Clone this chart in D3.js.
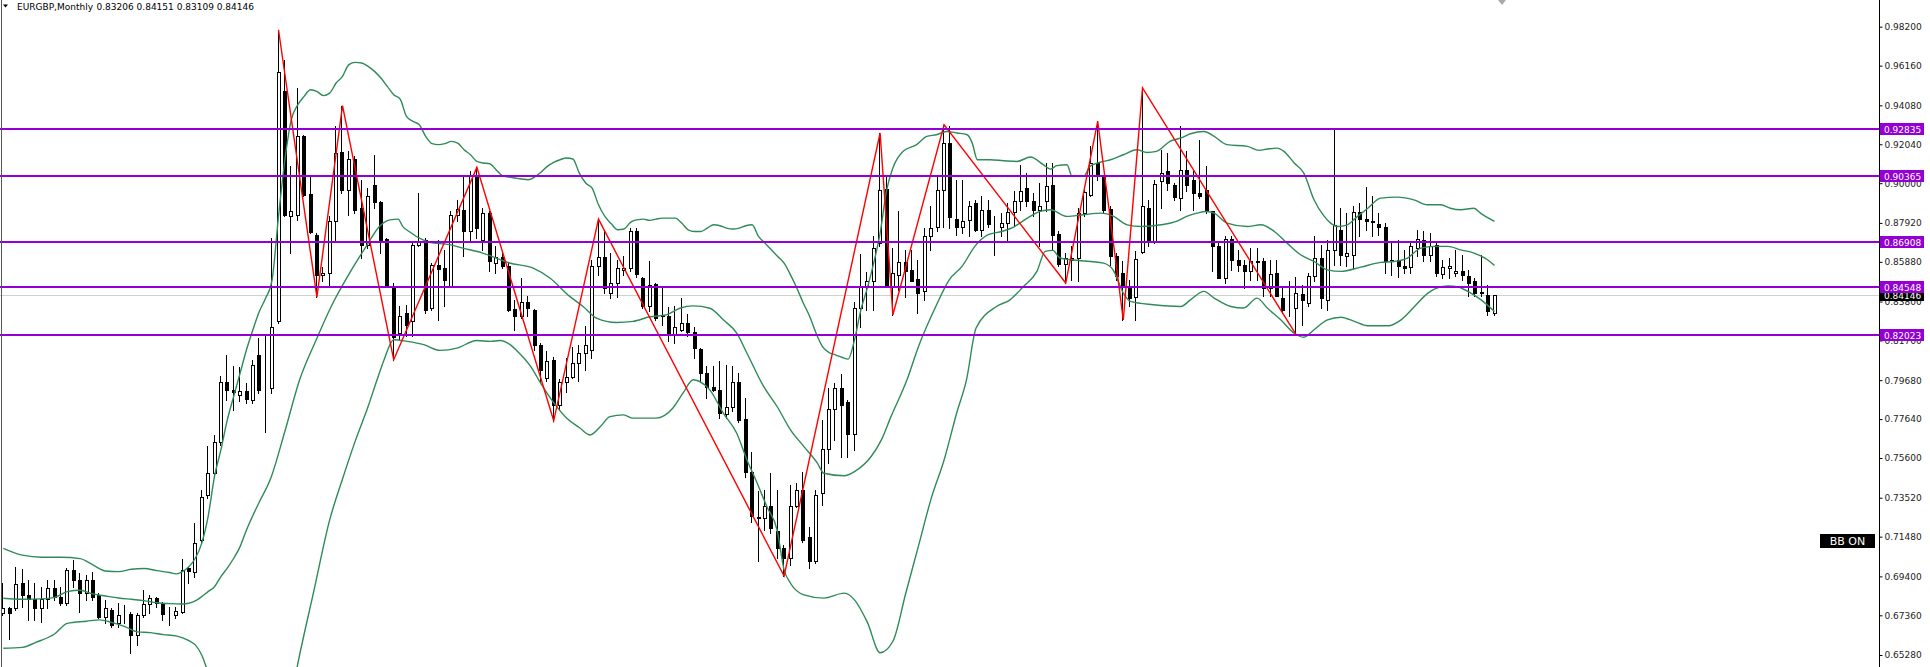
<!DOCTYPE html>
<html>
<head>
<meta charset="utf-8">
<script src="https://cdn.jsdelivr.net/npm/d3@7"></script>
<style>
  body { margin: 0; background: #fff; }
  svg { display: block; }
</style>
</head>
<body>
<script>

// chart header
var symbolTitle = "EURGBP,Monthly";
var lastBarText = "0.83206 0.84151 0.83109 0.84146";

// monthly candles, one per bar (bar 0 = oldest)
var opens = [
0.6747,0.6773,0.6773,0.6907,0.6843,0.6820,0.6776,0.6820,0.6881,0.6834,
0.6799,0.6974,0.6921,0.6851,0.6921,0.6843,0.6729,0.6764,0.6694,0.6742,
0.6743,0.6633,0.6738,0.6796,0.6825,0.6799,0.6743,0.6738,0.6755,0.6982,
0.6965,0.7131,0.7367,0.7481,0.7642,0.7961,0.7918,0.7892,0.7909,0.7865,
0.8101,0.7918,0.7927,0.8276,0.9481,0.8826,0.8835,0.9249,0.8945,0.8730,
0.8520,0.8529,0.8800,0.9162,0.8962,0.9127,0.8870,0.8677,0.8988,0.8899,
0.8709,0.8463,0.8214,0.8319,0.8276,0.8678,0.8704,0.8346,0.8573,0.8555,
0.8463,0.8835,0.8861,0.8748,0.9039,0.8704,0.8844,0.8581,0.8613,0.8564,
0.8341,0.8306,0.8375,0.8337,0.8153,0.7979,0.8075,0.7840,0.7960,0.7985,
0.8060,0.8110,0.8127,0.8564,0.8613,0.8424,0.8476,0.8543,0.8555,0.8747,
0.8503,0.8354,0.8471,0.8311,0.8305,0.8206,0.8232,0.8267,0.8218,0.8131,
0.8005,0.7930,0.7914,0.7791,0.7830,0.7961,0.7763,0.7489,0.7244,0.7245,
0.7309,0.7179,0.7091,0.7035,0.7309,0.7393,0.7145,0.7018,0.7376,0.7606,
0.7816,0.7926,0.7856,0.7685,0.8345,0.8455,0.8485,0.8686,0.8969,0.8463,
0.8520,0.8585,0.8543,0.8497,0.8433,0.8721,0.8773,0.8966,0.9210,0.8812,
0.8773,0.8808,0.8896,0.8753,0.8861,0.8773,0.8773,0.8794,0.8847,0.8905,
0.8974,0.8905,0.8861,0.8905,0.8990,0.8733,0.8576,0.8600,0.8608,0.8843,
0.8939,0.9106,0.9036,0.8864,0.8620,0.8532,0.8459,0.8403,0.8639,0.8870,
0.8695,0.9009,0.9062,0.8992,0.8922,0.9071,0.9018,0.8948,0.8966,0.8852,
0.8669,0.8503,0.8707,0.8599,0.8573,0.8538,0.8588,0.8590,0.8450,0.8529,
0.8398,0.8354,0.8346,0.8419,0.8372,0.8512,0.8608,0.8389,0.8651,0.8756,
0.8620,0.8625,0.8847,0.8812,0.8800,0.8787,0.8773,0.8590,0.8599,0.8564,
0.8560,0.8660,0.8704,0.8625,0.8677,0.8525,0.8555,0.8529,0.8538,0.8512,
0.8485,0.8430,0.8415,0.83206];
var highs = [
0.6904,0.6780,0.6991,0.6977,0.6921,0.6904,0.6886,0.6921,0.6921,0.6886,
0.6982,0.7026,0.6956,0.6947,0.6965,0.6851,0.6816,0.6773,0.6799,0.6790,
0.6755,0.6747,0.6869,0.6843,0.6834,0.6808,0.6781,0.6781,0.7030,0.6991,
0.7218,0.7393,0.7625,0.7682,0.7988,0.8101,0.8040,0.8035,0.7953,0.8075,
0.8189,0.8197,0.8713,0.9804,0.9647,0.9088,0.9499,0.9254,0.9036,0.8739,
0.8560,0.8826,0.9298,0.9406,0.9167,0.9141,0.9018,0.8974,0.9149,0.8905,
0.8713,0.8477,0.8354,0.8363,0.8695,0.8948,0.8713,0.8582,0.8704,0.8651,
0.8852,0.8914,0.9036,0.9062,0.9083,0.8870,0.8852,0.8669,0.8634,0.8582,
0.8389,0.8503,0.8407,0.8340,0.8162,0.8120,0.8090,0.7975,0.8085,0.8140,
0.8150,0.8250,0.8600,0.8812,0.8747,0.8634,0.8599,0.8616,0.8765,0.8765,
0.8508,0.8590,0.8476,0.8462,0.8350,0.8354,0.8401,0.8314,0.8249,0.8136,
0.8040,0.8040,0.8066,0.8048,0.8040,0.8008,0.7874,0.7594,0.7385,0.7393,
0.7484,0.7393,0.7105,0.7419,0.7428,0.7489,0.7201,0.7393,0.7760,0.7926,
0.7952,0.8001,0.7865,0.8380,0.8630,0.8537,0.8721,0.9263,0.9036,0.8660,
0.8852,0.8651,0.8651,0.8599,0.8765,0.8878,0.9036,0.9306,0.9298,0.9018,
0.9018,0.8905,0.8913,0.8931,0.8913,0.8826,0.8843,0.8896,0.8957,0.9097,
0.9053,0.8948,0.9001,0.9106,0.9106,0.8747,0.8634,0.8669,0.8869,0.8966,
0.9193,0.9324,0.9044,0.8878,0.8634,0.8590,0.8494,0.8643,0.9499,0.8913,
0.9018,0.9175,0.9158,0.9001,0.9298,0.9167,0.9062,0.9228,0.9088,0.8852,
0.8686,0.8721,0.8721,0.8651,0.8599,0.8660,0.8660,0.8608,0.8599,0.8599,
0.8450,0.8485,0.8511,0.8468,0.8529,0.8721,0.8678,0.8704,0.9280,0.8870,
0.8843,0.8878,0.8896,0.8980,0.8931,0.8843,0.8791,0.8695,0.8704,0.8651,
0.8686,0.8756,0.8747,0.8739,0.8686,0.8599,0.8608,0.8651,0.8625,0.8547,
0.8503,0.8625,0.8468,0.84151];
var lows = [
0.6738,0.6610,0.6764,0.6781,0.6712,0.6712,0.6703,0.6773,0.6816,0.6790,
0.6790,0.6886,0.6755,0.6816,0.6816,0.6720,0.6694,0.6677,0.6677,0.6694,
0.6537,0.6580,0.6729,0.6747,0.6781,0.6712,0.6685,0.6720,0.6747,0.6904,
0.6939,0.7114,0.7349,0.7470,0.7630,0.7865,0.7813,0.7857,0.7848,0.7848,
0.7900,0.7699,0.7900,0.8267,0.8826,0.8634,0.8808,0.8931,0.8739,0.8403,
0.8490,0.8459,0.8704,0.8948,0.8835,0.8844,0.8608,0.8660,0.8870,0.8634,
0.8459,0.8075,0.8180,0.8197,0.8197,0.8669,0.8320,0.8337,0.8284,0.8354,
0.8459,0.8800,0.8617,0.8704,0.8713,0.8651,0.8538,0.8529,0.8555,0.8328,
0.8232,0.8293,0.8302,0.8127,0.7960,0.7965,0.7755,0.7810,0.7905,0.7980,
0.7965,0.8020,0.8083,0.8520,0.8424,0.8398,0.8406,0.8520,0.8538,0.8511,
0.8345,0.8328,0.8284,0.8258,0.8171,0.8162,0.8223,0.8197,0.8083,0.7961,
0.7874,0.7909,0.7769,0.7769,0.7804,0.7751,0.7463,0.7227,0.7018,0.7184,
0.7166,0.7035,0.6942,0.7000,0.7304,0.7122,0.6983,0.7009,0.7315,0.7533,
0.7655,0.7568,0.7568,0.7603,0.8249,0.8337,0.8337,0.8669,0.8459,0.8311,
0.8442,0.8403,0.8485,0.8319,0.8389,0.8651,0.8747,0.8773,0.8765,0.8730,
0.8739,0.8721,0.8747,0.8721,0.8773,0.8625,0.8721,0.8704,0.8782,0.8861,
0.8878,0.8826,0.8669,0.8852,0.8651,0.8564,0.8477,0.8494,0.8485,0.8826,
0.8931,0.9018,0.8843,0.8573,0.8494,0.8284,0.8354,0.8284,0.8634,0.8669,
0.8686,0.8869,0.8966,0.8913,0.8861,0.8957,0.8861,0.8922,0.8843,0.8538,
0.8503,0.8477,0.8547,0.8538,0.8450,0.8494,0.8494,0.8407,0.8407,0.8407,
0.8319,0.8302,0.8206,0.8258,0.8354,0.8485,0.8346,0.8337,0.8573,0.8573,
0.8564,0.8555,0.8721,0.8756,0.8721,0.8730,0.8529,0.8520,0.8511,0.8529,
0.8529,0.8616,0.8590,0.8590,0.8512,0.8503,0.8503,0.8512,0.8494,0.8407,
0.8407,0.8407,0.8311,0.83109];
var closes = [
0.6773,0.6750,0.6900,0.6843,0.6820,0.6776,0.6820,0.6881,0.6834,0.6799,
0.6974,0.6921,0.6851,0.6921,0.6834,0.6729,0.6773,0.6685,0.6738,0.6745,
0.6633,0.6738,0.6796,0.6825,0.6799,0.6743,0.6741,0.6760,0.6974,0.6970,
0.7114,0.7358,0.7481,0.7642,0.7961,0.7918,0.7904,0.7913,0.7869,0.8049,
0.7918,0.7915,0.8246,0.9583,0.8835,0.8856,0.9249,0.8940,0.8742,0.8520,
0.8529,0.8800,0.9158,0.8966,0.9127,0.8857,0.8677,0.8931,0.8899,0.8704,
0.8463,0.8194,0.8305,0.8258,0.8678,0.8690,0.8337,0.8573,0.8550,0.8494,
0.8835,0.8865,0.8748,0.9036,0.8765,0.8844,0.8590,0.8613,0.8564,0.8337,
0.8306,0.8375,0.8346,0.8153,0.8023,0.8066,0.7840,0.7960,0.7985,0.8060,
0.8110,0.8150,0.8564,0.8613,0.8450,0.8476,0.8555,0.8555,0.8747,0.8525,
0.8354,0.8468,0.8293,0.8302,0.8206,0.8249,0.8267,0.8218,0.8136,0.8005,
0.7930,0.7914,0.7795,0.7830,0.7956,0.7760,0.7489,0.7254,0.7250,0.7309,
0.7192,0.7088,0.7035,0.7309,0.7393,0.7131,0.7018,0.7367,0.7606,0.7816,
0.7926,0.7839,0.7685,0.8345,0.8455,0.8490,0.8660,0.8966,0.8463,0.8529,
0.8585,0.8538,0.8490,0.8424,0.8721,0.8765,0.8966,0.9210,0.8822,0.8773,
0.8800,0.8882,0.8753,0.8861,0.8788,0.8770,0.8794,0.8847,0.8905,0.8957,
0.8905,0.8861,0.8878,0.8983,0.8730,0.8576,0.8608,0.8608,0.8843,0.8952,
0.9106,0.9036,0.8861,0.8620,0.8515,0.8468,0.8398,0.8602,0.8878,0.8695,
0.8997,0.9053,0.9001,0.8927,0.9071,0.8992,0.8948,0.8931,0.8861,0.8669,
0.8503,0.8707,0.8599,0.8573,0.8538,0.8590,0.8592,0.8450,0.8525,0.8410,
0.8337,0.8358,0.8424,0.8389,0.8512,0.8608,0.8398,0.8651,0.8782,0.8625,
0.8634,0.8847,0.8812,0.8800,0.8797,0.8773,0.8590,0.8599,0.8567,0.8555,
0.8669,0.8707,0.8625,0.8672,0.8529,0.8560,0.8564,0.8541,0.8520,0.8477,
0.8424,0.8424,0.8328,0.84146];

// Bollinger bands: [bar, price]
var bbUpper = [
[0,0.7087],[3,0.7051],[6,0.7040],[9,0.7040],[12,0.7033],[14,0.7000],[16,0.6968],[18,0.6965],
[20,0.6977],[22,0.6981],[24,0.6970],[26,0.6960],[27,0.6953],[28,0.6965],[29,0.6991],[30,0.7035],
[31,0.7113],[32,0.7253],[33,0.7464],[34,0.7603],[35,0.7760],[36,0.7883],[37,0.8005],[38,0.8127],
[39,0.8232],[40,0.8328],[41,0.8398],[42,0.8494],[43,0.8826],[44,0.9123],[45,0.9333],[46,0.9410],
[47,0.9455],[48,0.9490],[49,0.9481],[50,0.9459],[51,0.9472],[52,0.9525],[53,0.9560],[54,0.9621],
[55,0.9633],[56,0.9630],[57,0.9612],[58,0.9586],[59,0.9551],[60,0.9507],[61,0.9464],[62,0.9441],
[63,0.9350],[64,0.9324],[65,0.9306],[66,0.9245],[67,0.9207],[68,0.9202],[69,0.9207],[70,0.9219],
[71,0.9210],[72,0.9175],[73,0.9149],[74,0.9114],[75,0.9106],[76,0.9102],[77,0.9071],[78,0.9039],
[79,0.9032],[80,0.9027],[81,0.9022],[82,0.9018],[83,0.9032],[84,0.9057],[85,0.9088],[86,0.9109],
[87,0.9123],[88,0.9132],[89,0.9127],[90,0.9053],[91,0.9001],[92,0.8974],[93,0.8887],[94,0.8826],
[95,0.8787],[96,0.8756],[97,0.8760],[98,0.8795],[99,0.8808],[100,0.8812],[101,0.8805],[102,0.8812],
[103,0.8817],[105,0.8817],[106,0.8791],[107,0.8756],[108,0.8747],[109,0.8747],[110,0.8765],[111,0.8782],
[112,0.8777],[113,0.8765],[114,0.8760],[115,0.8765],[116,0.8777],[117,0.8782],[118,0.8721],[119,0.8686],
[120,0.8651],[121,0.8616],[122,0.8581],[123,0.8520],[124,0.8450],[125,0.8372],[126,0.8302],[127,0.8214],
[128,0.8144],[129,0.8113],[130,0.8101],[131,0.8088],[132,0.8078],[133,0.8179],[134,0.8337],[135,0.8450],
[136,0.8581],[137,0.8738],[138,0.8960],[139,0.9080],[140.6,0.9167],[142.7,0.9202],[144.3,0.9245],[145.8,0.9254],
[147.4,0.9271],[149,0.9263],[150.6,0.9254],[151.4,0.9210],[152.2,0.9123],[154.2,0.9123],[156.3,0.9118],[158.4,0.9114],
[160.5,0.9137],[162.5,0.9097],[163.6,0.9074],[164.6,0.9092],[166.2,0.9097],[167,0.9036],[168.8,0.9036],[169.8,0.9088],
[171.9,0.9114],[173,0.9123],[175,0.9149],[177.1,0.9175],[178.7,0.9161],[180.2,0.9167],[182.3,0.9219],[184,0.9237],
[185.5,0.9259],[187.6,0.9271],[189.2,0.9245],[191.2,0.9202],[194.4,0.9193],[196.2,0.9172],[197.5,0.9179],[199,0.9184],
[200.1,0.9167],[201.7,0.9106],[203.2,0.9053],[204.8,0.8913],[206.4,0.8826],[207.4,0.8791],[208.5,0.8773],[210,0.8782],
[211.6,0.8826],[213.2,0.8869],[215.2,0.8922],[217.8,0.8927],[220.4,0.8913],[222.5,0.8887],[224.6,0.8887],[226.1,0.8869],
[227.7,0.8861],[229.8,0.8869],[230.8,0.8843],[233,0.8800]];
var bbMiddle = [
[0,0.6825],[3,0.6820],[6,0.6822],[8,0.6830],[10,0.6860],[12,0.6867],[14,0.6848],[16,0.6837],
[18,0.6827],[20,0.6820],[22,0.6813],[24,0.6802],[26,0.6797],[28,0.6795],[29,0.6799],[30,0.6811],
[31,0.6834],[32,0.6860],[33,0.6886],[34,0.6939],[35,0.6983],[36,0.7035],[37,0.7096],[38,0.7183],
[40,0.7330],[41.7,0.7446],[44,0.7700],[46.3,0.7970],[48.9,0.8180],[51.5,0.8372],[54.1,0.8529],[56.7,0.8669],
[58.8,0.8774],[60.4,0.8808],[61.7,0.8812],[62.4,0.8774],[63.4,0.8747],[65.5,0.8704],[66.6,0.8690],[69.7,0.8678],
[71.8,0.8660],[74.9,0.8634],[79.1,0.8582],[82.8,0.8555],[85.4,0.8503],[88.5,0.8407],[90.6,0.8354],[92.7,0.8293],
[95.8,0.8270],[98.4,0.8276],[101,0.8300],[103.6,0.8310],[105.7,0.8345],[107.8,0.8357],[110.4,0.8345],[112.5,0.8284],
[114.6,0.8214],[116.2,0.8109],[118.8,0.7935],[120.9,0.7830],[123,0.7708],[125.1,0.7620],[127.2,0.7533],[128.2,0.7480],
[131.4,0.7467],[133,0.7489],[135.6,0.7568],[137.2,0.7655],[138.7,0.7777],[141.2,0.7970],[143,0.8145],[145.7,0.8354],
[147.8,0.8494],[149.8,0.8564],[151.8,0.8669],[153.9,0.8730],[156,0.8747],[158,0.8773],[160,0.8817],[162,0.8852],
[163.6,0.8861],[166.2,0.8826],[168.8,0.8835],[171.5,0.8843],[173.5,0.8826],[175.6,0.8782],[177.8,0.8773],[180.9,0.8782],
[183.3,0.8800],[184.9,0.8826],[186.5,0.8843],[188,0.8852],[189.2,0.8843],[191.2,0.8791],[194.4,0.8773],[196.5,0.8782],
[198.6,0.8747],[200.6,0.8686],[202.7,0.8625],[204.8,0.8590],[206.9,0.8546],[209,0.8538],[212.1,0.8560],[215.2,0.8585],
[217.3,0.8590],[219.4,0.8608],[221.5,0.8660],[223.6,0.8669],[225.7,0.8669],[227.7,0.8651],[229.8,0.8634],[231.9,0.8599],
[233,0.8569]];
var bbLower = [
[0,0.6563],[3,0.6568],[5,0.6593],[8,0.6638],[10,0.6694],[13,0.6705],[15,0.6712],[17,0.6698],
[19,0.6677],[21,0.6649],[23,0.6645],[25,0.6635],[27,0.6628],[29,0.6603],[30,0.6581],[31,0.6528],
[32,0.6440],[33,0.6370],[35,0.6200],[37,0.6050],[39,0.5920],[41,0.5880],[43,0.6000],[44,0.6150],
[45,0.6310],[46,0.6480],[48.5,0.6860],[51,0.7236],[53,0.7450],[55,0.7650],[57,0.7830],[58.4,0.7970],
[59.5,0.8075],[61,0.8180],[63.1,0.8171],[65.7,0.8154],[68.3,0.8124],[70.9,0.8136],[74,0.8176],[76.1,0.8171],
[77.6,0.8176],[79.2,0.8154],[80.2,0.8124],[82.4,0.8040],[84,0.7950],[86,0.7850],[88,0.7770],[90,0.7720],
[91.7,0.7681],[93.3,0.7725],[94.8,0.7777],[96.9,0.7786],[98.4,0.7769],[102,0.7769],[104.6,0.7821],[106.2,0.7900],
[107.8,0.7970],[108.8,0.7961],[110.4,0.7917],[112.5,0.7795],[114.6,0.7690],[116.2,0.7550],[117.8,0.7428],[119.3,0.7306],
[120.9,0.7184],[122,0.6974],[123,0.6904],[125.1,0.6843],[128.2,0.6826],[131.4,0.6852],[133,0.6817],[135,0.6700],
[137,0.6540],[139,0.6600],[141,0.6850],[143,0.7100],[145,0.7350],[147,0.7550],[149,0.7800],[150.5,0.7970],
[152,0.8241],[155.2,0.8354],[157.3,0.8389],[159.4,0.8459],[161.5,0.8538],[162.8,0.8643],[164,0.8648],[165.1,0.8608],
[166.9,0.8599],[171.9,0.8581],[173.4,0.8546],[175,0.8424],[176.1,0.8381],[179.7,0.8363],[184,0.8354],[185.5,0.8389],
[187.6,0.8433],[189.2,0.8398],[191.8,0.8354],[193.8,0.8346],[195.9,0.8398],[197.5,0.8346],[199.6,0.8284],[201.7,0.8214],
[203.2,0.8193],[204.8,0.8232],[206.9,0.8284],[209,0.8298],[211.1,0.8276],[213.2,0.8253],[216.4,0.8253],[218.4,0.8284],
[220.5,0.8354],[222.6,0.8424],[223.6,0.8445],[225.7,0.8462],[227.3,0.8456],[229.3,0.8424],[230.9,0.8389],[233,0.8328]];

// zigzag turning points
var zigzagBars   = [43, 49, 53, 61, 74, 86, 93, 122, 137, 139, 147, 166, 171, 175, 178, 202];
var zigzagPrices = [0.9804, 0.8403, 0.9406, 0.8075, 0.9083, 0.7755, 0.8812, 0.6942, 0.9263, 0.8311, 0.9306, 0.8477, 0.9324, 0.8284, 0.9499, 0.8206];

// horizontal support / resistance lines
var levelPrices = [0.92835, 0.90365, 0.86908, 0.84548, 0.82023];
var bidPrice = 0.84146;

// price scale labels
var yTicks = [0.98200, 0.96160, 0.94080, 0.92040, 0.90000, 0.87920, 0.85880, 0.83800,
              0.81760, 0.79680, 0.77640, 0.75600, 0.73520, 0.71480, 0.69400, 0.67360, 0.65280];

var badgeText = "BB ON";

// set the dimensions
var width = 1930,
    height = 667,
    plotRight = 1879;   // price scale separator

var font = '"DejaVu Sans", sans-serif';

var x = d3.scaleLinear()
          .domain([0, opens.length - 1])
          .range([3.3, 1494.5]);
var y = d3.scaleLinear()
          .domain([0.65280, 0.98200])
          .range([655, 26.7]);

var svg = d3.select("body").append("svg")
    .attr("width", width)
    .attr("height", height);

svg.append("rect")
    .attr("width", width)
    .attr("height", height)
    .attr("fill", "#ffffff");

svg.append("clipPath")
    .attr("id", "plot")
  .append("rect")
    .attr("x", 0).attr("y", 0)
    .attr("width", plotRight).attr("height", height);

var plot = svg.append("g").attr("clip-path", "url(#plot)");

// bid line
plot.append("line")
    .attr("x1", 0).attr("x2", plotRight)
    .attr("y1", Math.round(y(bidPrice)) + 0.5)
    .attr("y2", Math.round(y(bidPrice)) + 0.5)
    .attr("stroke", "#d0d0d0")
    .attr("stroke-width", 1);

// candles
var bars = d3.range(opens.length);
var candle = plot.selectAll(".candle")
    .data(bars)
  .enter().append("g")
    .attr("class", "candle");

candle.append("line")
    .attr("x1", function(i) { return Math.round(x(i)) - 0.5; })
    .attr("x2", function(i) { return Math.round(x(i)) - 0.5; })
    .attr("y1", function(i) { return Math.round(y(highs[i])); })
    .attr("y2", function(i) { return Math.round(y(lows[i])) + 1; })
    .attr("stroke", "#000")
    .attr("stroke-width", 1);

candle.append("rect")
    .attr("x", function(i) { return Math.round(x(i)) - 1.5; })
    .attr("width", 3)
    .attr("y", function(i) { return Math.round(y(Math.max(opens[i], closes[i]))) + 0.5; })
    .attr("height", function(i) {
        return Math.round(y(Math.min(opens[i], closes[i]))) - Math.round(y(Math.max(opens[i], closes[i])));
    })
    .attr("fill", function(i) { return closes[i] >= opens[i] ? "#ffffff" : "#000000"; })
    .attr("stroke", "#000")
    .attr("stroke-width", 1);

// bollinger bands
var bandLine = d3.line()
    .x(function(d) { return x(d[0]); })
    .y(function(d) { return y(d[1]); })
    .curve(d3.curveMonotoneX);

[bbUpper, bbMiddle, bbLower].forEach(function(band) {
  plot.append("path")
      .datum(band)
      .attr("fill", "none")
      .attr("stroke", "#2e8b57")
      .attr("stroke-width", 1.4)
      .attr("d", bandLine);
});

// zigzag
var zz = zigzagBars.map(function(b, k) { return [b, zigzagPrices[k]]; });
plot.append("path")
    .datum(zz)
    .attr("fill", "none")
    .attr("stroke", "#ff0000")
    .attr("stroke-width", 1.4)
    .attr("d", d3.line()
        .x(function(d) { return x(d[0]); })
        .y(function(d) { return y(d[1]); }));

// horizontal levels
plot.selectAll(".level")
    .data(levelPrices)
  .enter().append("line")
    .attr("class", "level")
    .attr("x1", 0).attr("x2", plotRight)
    .attr("y1", function(d) { return Math.round(y(d)); })
    .attr("y2", function(d) { return Math.round(y(d)); })
    .attr("stroke", "#9400d3")
    .attr("stroke-width", 2);

// left frame
svg.append("line")
    .attr("x1", 1.5).attr("x2", 1.5)
    .attr("y1", 0).attr("y2", height)
    .attr("stroke", "#555")
    .attr("stroke-width", 1);

// price axis
var axis = svg.append("g")
    .attr("class", "y axis")
    .attr("transform", "translate(" + (plotRight + 0.5) + ",0)")
    .call(d3.axisRight(y)
        .tickValues(yTicks)
        .tickFormat(d3.format(".5f"))
        .tickSize(3)
        .tickSizeOuter(0));

axis.select(".domain").remove();
axis.selectAll(".tick line").attr("stroke", "#000");
axis.selectAll(".tick text")
    .attr("x", 5)
    .style("font-family", font)
    .style("font-size", "9px")
    .attr("fill", "#222");

svg.append("line")
    .attr("x1", plotRight + 0.5).attr("x2", plotRight + 0.5)
    .attr("y1", 0).attr("y2", height)
    .attr("stroke", "#000")
    .attr("stroke-width", 1);

// bid label
svg.append("rect")
    .attr("x", plotRight + 1).attr("y", Math.round(y(bidPrice)) - 5)
    .attr("width", 44).attr("height", 11)
    .attr("fill", "#000");
svg.append("text")
    .attr("x", plotRight + 5).attr("y", Math.round(y(bidPrice)) + 4)
    .style("font-family", font)
    .style("font-size", "9px")
    .attr("fill", "#fff")
    .text(d3.format(".5f")(bidPrice));

// level labels
var levelLabel = svg.selectAll(".level-label")
    .data(levelPrices)
  .enter().append("g")
    .attr("class", "level-label")
    .attr("transform", function(d) { return "translate(" + (plotRight + 1) + "," + Math.round(y(d)) + ")"; });

levelLabel.append("rect")
    .attr("x", 0).attr("y", -6)
    .attr("width", 44).attr("height", 12)
    .attr("fill", "#9400d3");
levelLabel.append("text")
    .attr("x", 4).attr("y", 4)
    .style("font-family", font)
    .style("font-size", "9px")
    .attr("fill", "#fff")
    .text(function(d) { return d3.format(".5f")(d); });

// header
svg.append("path")
    .attr("d", "M3,4.5 L8,4.5 L5.5,7.5 Z")
    .attr("fill", "#000");
svg.append("text")
    .attr("x", 17).attr("y", 10)
    .style("font-family", font)
    .style("font-size", "9px")
    .attr("fill", "#000")
    .text(symbolTitle);
svg.append("text")
    .attr("x", 96.5).attr("y", 10)
    .style("font-family", font)
    .style("font-size", "9px")
    .attr("fill", "#000")
    .text(lastBarText);

// chart shift marker
svg.append("path")
    .attr("d", "M1498,0 L1506,0 L1502,5 Z")
    .attr("fill", "#a9a9a9");

// BB ON badge
svg.append("rect")
    .attr("x", 1820).attr("y", 534)
    .attr("width", 55).attr("height", 14)
    .attr("fill", "#000");
svg.append("text")
    .attr("x", 1847.5).attr("y", 545)
    .attr("text-anchor", "middle")
    .style("font-family", font)
    .style("font-size", "11px")
    .attr("fill", "#fff")
    .text(badgeText);

</script>
</body>
</html>
